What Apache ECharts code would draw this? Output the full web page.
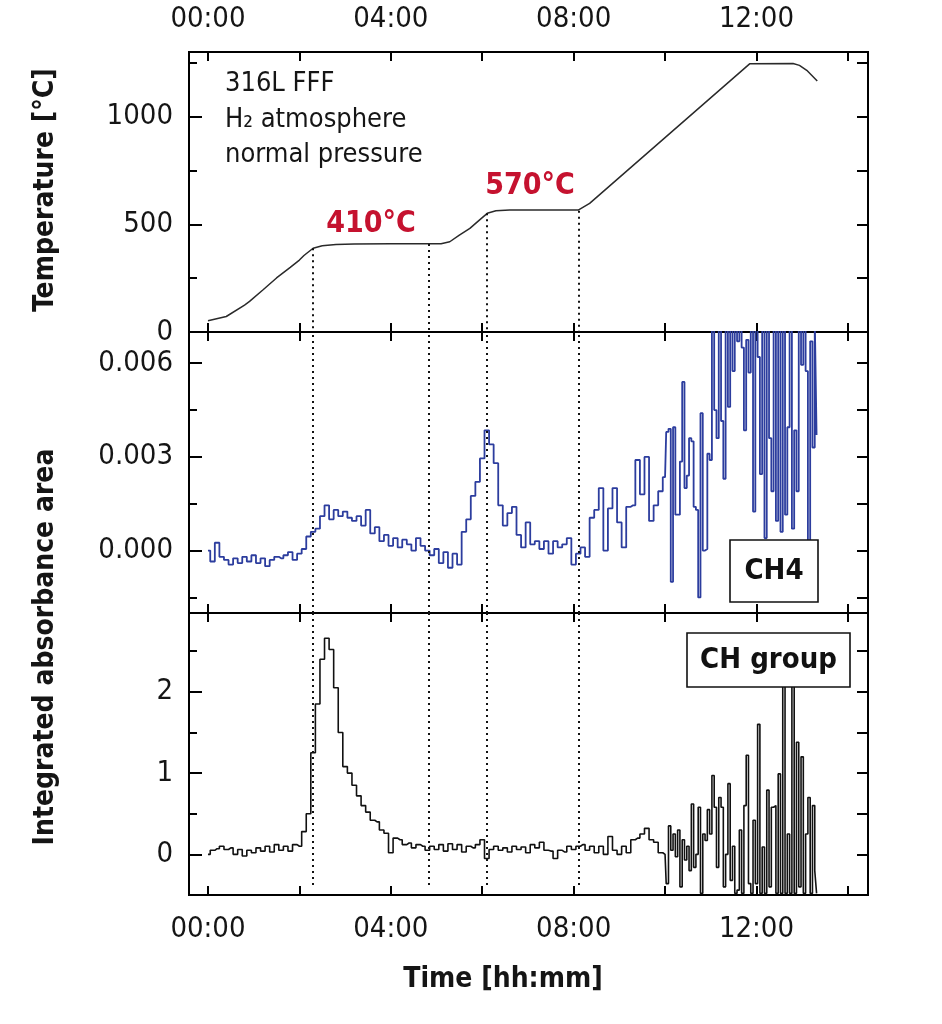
<!DOCTYPE html>
<html><head><meta charset="utf-8">
<script src="https://cdn.jsdelivr.net/npm/echarts@6/dist/echarts.min.js"></script>
<style>html,body{margin:0;padding:0;background:#fff}#c{width:942px;height:1024px}</style>
</head><body><div id="c"></div><script>
const FONT = "'Liberation Sans Narrow','DejaVu Sans Condensed','Liberation Sans',sans-serif";

// ---- axes ----
const xTickHours = [0, 2, 4, 6, 8, 10, 12, 14];
const xLabelHours = [0, 4, 8, 12];
const tempMajor = [0, 500, 1000];
const tempMinor = [250, 750, 1250];
const ch4Major = [0, 0.003, 0.006];
const ch4Minor = [-0.0015, 0.0015, 0.0045];
const chMajor = [0, 1, 2];
const chMinor = [0.5, 1.5, 2.5];

// ---- stage markers (dotted lines) ----
const stageTimes = [2.30, 4.84, 6.11, 8.12];
const stageTemps = [389, 409, 551, 563];

// ---- temperature profile ----
const tempTime = [0, 0.4, 0.8, 0.91, 1.2, 1.5, 1.8, 2.0, 2.1, 2.3, 2.5, 2.8, 3.2, 4.0, 5.1, 5.29, 5.5, 5.73, 5.95, 6.11, 6.3, 6.6, 8.1, 8.35, 11.85, 12.8, 12.94, 13.1, 13.33];
const tempValue = [52, 72, 125, 142, 195, 251, 300, 334, 355, 389, 400, 406, 409, 410, 410, 419, 450, 481, 522, 551, 563, 567, 566, 597, 1245, 1247, 1238, 1215, 1165];

// ---- sample times for absorbance series (hours) ----
const sampleTime = [
 0,0.1,0.2,0.3,0.4,0.5,0.6,0.7,0.8,0.9,
 1,1.1,1.2,1.3,1.4,1.5,1.6,1.7,1.8,1.9,
 2,2.1,2.2,2.3,2.4,2.5,2.6,2.7,2.8,2.9,
 3,3.1,3.2,3.3,3.4,3.5,3.6,3.7,3.8,3.9,
 4,4.1,4.2,4.3,4.4,4.5,4.6,4.7,4.8,4.9,
 5,5.1,5.2,5.3,5.4,5.5,5.6,5.7,5.8,5.9,
 6,6.1,6.2,6.3,6.4,6.5,6.6,6.7,6.8,6.9,
 7,7.1,7.2,7.3,7.4,7.5,7.6,7.7,7.8,7.9,
 8,8.1,8.2,8.3,8.4,8.5,8.6,8.7,8.8,8.9,
 9,9.1,9.2,9.3,9.4,9.5,9.6,9.7,9.8,9.9,
 10,10.05,10.1,10.15,10.2,10.25,10.3,10.35,10.4,10.45,10.5,10.55,10.6,10.65,10.7,10.75,10.8,10.85,10.9,10.95,
 11,11.05,11.1,11.15,11.2,11.25,11.3,11.35,11.4,11.45,11.5,11.55,11.6,11.65,11.7,11.75,11.8,11.85,11.9,11.95,
 12,12.05,12.1,12.15,12.2,12.25,12.3,12.35,12.4,12.45,12.5,12.55,12.6,12.65,12.7,12.75,12.8,12.85,12.9,12.95,
 13,13.05,13.1,13.15,13.2,13.25,13.3,13.33
];

// ---- CH4 integrated absorbance area ----
const ch4Value = [
 0,-0.00035,0.00025,-0.0002,-0.0003,-0.00045,-0.00025,-0.0004,-0.0002,-0.00035,
 -0.00015,-0.0004,-0.00025,-0.0005,-0.0003,-0.0002,-0.00025,-0.00015,-0.00005,-0.0003,
 -0.0001,0.00005,0.00045,0.0006,0.0007,0.0011,0.00145,0.001,0.0013,0.0011,
 0.00125,0.00105,0.00095,0.0011,0.0008,0.0013,0.00055,0.00075,0.0003,0.0005,
 0.00015,0.0004,0.0001,0.00035,0.0002,0,0.0004,0.00015,0,-0.00015,
 0.00005,-0.0004,-0.00005,-0.00055,-0.0001,-0.00045,0.0006,0.001,0.00175,0.0022,
 0.00295,0.00385,0.0034,0.0028,0.00145,0.0008,0.0012,0.0014,0.0005,0.0001,
 0.0009,0.0002,0.0003,0.00005,0.0003,-0.0001,0.0003,0.0001,0.0002,0.0004,
 -0.00045,-0.0001,0.0001,-0.0002,0.00105,0.0013,0.002,0,0.00135,0.002,
 0.0009,0.0001,0.0014,0.00145,0.0029,0.0018,0.003,0.00095,0.00145,0.0019,
 0.00235,0.0038,0.0039,-0.001,0.00395,0.00115,0.00115,0.00285,0.0054,0.002,0.0024,0.0036,0.0035,0.0014,0.0013,-0.0015,0.0044,0,0.00005,0.0031,
 0.0029,0.0075,0.0045,0.0036,0.0075,0.00415,0.0023,0.0075,0.0046,0.0075,0.00575,0.0075,0.0067,0.0075,0.0065,0.00385,0.00675,0.0057,0.0075,0.00125,
 0.0075,0.0062,0.00245,0.0075,0.0004,0.0075,0.0036,0.0019,0.0075,0.00095,0.0075,0.0006,0.0075,0.00115,0.00395,0.0075,0.0007,0.00385,0.0019,0.0075,
 0.00595,0.0075,0.00575,0.0003,0.0067,0.0033,0.0075,0.0037
];

// ---- CH group integrated absorbance area ----
const chGroupValue = [
 0,0.05,0.07,0.1,0.06,0.08,0,0.06,-0.02,0.05,
 0.02,0.08,0.04,0.1,0.03,0.12,0.05,0.1,0.04,0.12,
 0.1,0.28,0.5,1.25,1.85,2.4,2.66,2.52,2.05,1.5,
 1.08,1.0,0.85,0.72,0.6,0.52,0.42,0.4,0.3,0.26,
 0.02,0.2,0.18,0.12,0.14,0.08,0.12,0.1,0.05,0.1,
 0.06,0.12,0.04,0.13,0.06,0.12,0.03,0.1,0.08,0.12,
 0.18,-0.05,0.06,0.1,0.05,0.08,0.03,0.1,0.06,0.09,
 0.02,0.12,0.08,0.15,0.05,0.04,-0.05,0.05,0.03,0.1,
 0.06,0.1,0.12,0.05,0.1,0.02,0.1,0,0.22,0.05,
 0,0.1,0.02,0.18,0.2,0.25,0.32,0.18,0.15,0.02,
 0,-0.36,0.35,0.05,0.25,-0.03,0.3,-0.4,0.18,-0.07,0.1,-0.2,0.62,-0.16,0,0.58,-0.48,0.25,0.17,0.55,
 0.25,0.97,0.58,-0.16,0.7,0.58,-0.4,0,0.87,-0.32,0.1,-0.48,-0.44,0.3,-0.48,0.6,1.22,-0.36,-0.48,0.42,
 -0.36,1.6,-0.48,0.09,-0.48,0.79,-0.4,0.58,0.6,-0.48,0.99,-0.48,2.4,-0.48,0.25,-0.48,2.3,-0.48,1.38,-0.4,
 1.2,-0.48,0.25,0.7,-0.48,0.6,-0.2,-0.48
];

const X_MIN = -0.415, X_MAX = 14.44;
const grids = [
  {left: 189, top: 52, width: 679, height: 280},
  {left: 189, top: 332, width: 679, height: 281},
  {left: 189, top: 613, width: 679, height: 282}
].map(g => Object.assign(g, {show: true, borderColor: '#000', borderWidth: 2, backgroundColor: 'transparent'}));

const labelStyle = {fontFamily: FONT, fontSize: 29, color: '#151515'};
const pad2 = v => String(Math.round(v)).padStart(2, '0') + ':00';

function xAx(gi, pos, showLabels) {
  return {
    type: 'value', gridIndex: gi, position: pos, min: X_MIN, max: X_MAX,
    axisLine: {show: false, onZero: false}, splitLine: {show: false},
    axisTick: {show: true, inside: true, length: 9, customValues: xTickHours, lineStyle: {color: '#000', width: 2}},
    axisLabel: Object.assign({show: showLabels, customValues: xLabelHours, formatter: pad2, margin: pos === 'top' ? 18 : 20}, labelStyle)
  };
}
function yAx(gi, pos, min, max, ticks, len, labels, fmt) {
  return {
    type: 'value', gridIndex: gi, position: pos, min: min, max: max,
    axisLine: {show: false, onZero: false}, splitLine: {show: false},
    axisTick: {show: true, inside: true, length: len, customValues: ticks, lineStyle: {color: '#000', width: 2}},
    axisLabel: Object.assign({show: !!labels, customValues: labels || ticks, formatter: fmt, margin: 16}, labelStyle)
  };
}

const xAxis = [
  xAx(0, 'bottom', false), xAx(0, 'top', true),
  xAx(1, 'bottom', false), xAx(1, 'top', false),
  xAx(2, 'bottom', true), xAx(2, 'top', false)
];
const yAxis = [
  yAx(0, 'left', 0, 1300, tempMajor, 13, tempMajor, v => String(v)),
  yAx(0, 'left', 0, 1300, tempMinor, 8),
  yAx(0, 'right', 0, 1300, tempMajor.concat(tempMinor), 11),
  yAx(1, 'left', -0.002, 0.007, ch4Major, 13, ch4Major, v => v.toFixed(3)),
  yAx(1, 'left', -0.002, 0.007, ch4Minor, 8),
  yAx(1, 'right', -0.002, 0.007, ch4Major.concat(ch4Minor), 11),
  yAx(2, 'left', -0.5, 2.97, chMajor, 13, chMajor, v => String(v)),
  yAx(2, 'left', -0.5, 2.97, chMinor, 8),
  yAx(2, 'right', -0.5, 2.97, chMajor.concat(chMinor), 11)
];

const dotted = {color: '#111', type: [2, 4], width: 2};
const zip = (a, b) => a.map((t, i) => [t, b[i]]);

const series = [
  {
    type: 'line', name: 'Temperature', xAxisIndex: 0, yAxisIndex: 0,
    data: zip(tempTime, tempValue), showSymbol: false, symbol: 'none',
    lineStyle: {color: '#2a2a2a', width: 1.5}, z: 3,
    markLine: {silent: true, symbol: ['none', 'none'], label: {show: false}, lineStyle: dotted,
      data: stageTimes.map((t, i) => [{coord: [t, stageTemps[i]]}, {coord: [t, 0]}])}
  },
  {
    type: 'line', name: 'CH4', xAxisIndex: 2, yAxisIndex: 3, step: 'middle',
    data: zip(sampleTime, ch4Value), showSymbol: false, symbol: 'none',
    lineStyle: {color: '#2c3d9e', width: 1.8}, z: 3,
    markLine: {silent: true, symbol: ['none', 'none'], label: {show: false}, lineStyle: dotted,
      data: stageTimes.map(t => ({xAxis: t}))}
  },
  {
    type: 'line', name: 'CH group', xAxisIndex: 4, yAxisIndex: 6, step: 'middle',
    data: zip(sampleTime, chGroupValue), showSymbol: false, symbol: 'none',
    lineStyle: {color: '#111', width: 1.6}, z: 3,
    markLine: {silent: true, symbol: ['none', 'none'], label: {show: false}, lineStyle: dotted,
      data: stageTimes.map(t => [{coord: [t, 2.97]}, {coord: [t, -0.38]}])}
  }
];

const RED = '#c5122f';
const txt = (x, y, text, o) => ({type: 'text', x: x, y: y, z: 100, style: Object.assign({text: text, fontFamily: FONT, fontSize: 27, fill: '#151515', align: 'left', verticalAlign: 'middle'}, o || {})});
const box = (x, y, w, h, text) => ({type: 'group', z: 100, children: [
  {type: 'rect', z: 100, shape: {x: x, y: y, width: w, height: h}, style: {fill: '#fff', stroke: '#111', lineWidth: 1.6}},
  {type: 'text', z: 101, x: x + w / 2, y: y + h / 2, style: {text: text, fontFamily: FONT, fontSize: 29, fontWeight: 'bold', fill: '#111', align: 'center', verticalAlign: 'middle'}}
]});

const titleY1 = txt(46, 190, 'Temperature [°C]', {fontSize: 28, fontWeight: 'bold', align: 'center'});
titleY1.rotation = Math.PI / 2;
const titleY2 = txt(46, 647, 'Integrated absorbance area', {fontSize: 28, fontWeight: 'bold', align: 'center'});
titleY2.rotation = Math.PI / 2;

const graphic = [
  titleY1, titleY2,
  txt(503, 980, 'Time [hh:mm]', {fontSize: 28, fontWeight: 'bold', align: 'center'}),
  txt(225, 84, '316L FFF'),
  txt(225, 120, 'H₂ atmosphere'),
  txt(225, 155, 'normal pressure'),
  txt(371, 224, '410°C', {fontSize: 30, fontWeight: 'bold', fill: RED, align: 'center'}),
  txt(530, 186, '570°C', {fontSize: 30, fontWeight: 'bold', fill: RED, align: 'center'}),
  box(730, 540, 88, 62, 'CH4'),
  box(687, 633, 163, 54, 'CH group')
];

const chart = echarts.init(document.getElementById('c'), null, {renderer: 'canvas'});
chart.setOption({
  animation: false,
  backgroundColor: '#fff',
  grid: grids,
  xAxis: xAxis,
  yAxis: yAxis,
  series: series,
  graphic: graphic
});
</script></body></html>
